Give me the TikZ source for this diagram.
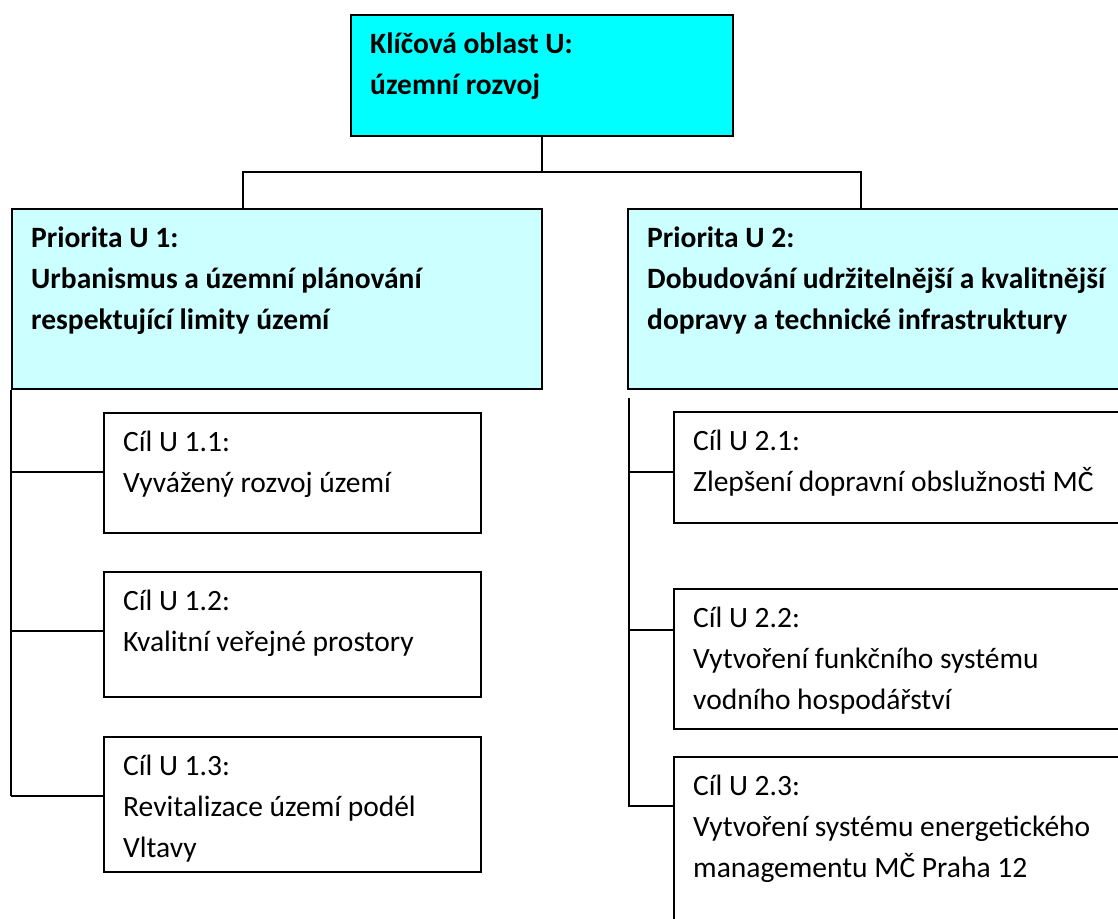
\documentclass[tikz,border=0pt]{standalone}
\usepackage{fontspec}
\setmainfont{Carlito}
\usetikzlibrary{positioning, calc}

\definecolor{keycyan}{RGB}{0,255,255}
\definecolor{prioritycyan}{RGB}{204,255,255}

\begin{document}
\begin{tikzpicture}[x=1pt, y=-1pt,
    box/.style={draw, line width=2pt, anchor=north west, inner sep=0pt},
    txt/.style={anchor=north west, align=left, inner xsep=20pt, inner ysep=19pt,
      font=\fontsize{29.5}{41}\selectfont, execute at begin node=\strut},
    bold/.style={txt, font=\fontsize{29.5}{41}\selectfont\bfseries},
    conn/.style={line width=1.8pt}]

  \clip (0,0) rectangle (1118,918);

  % key area and priorities
  \node[box, fill=keycyan, minimum width=382, minimum height=121,
    label={[bold]north west:{Klíčová oblast U:\\územní rozvoj}}] (top) at (350,14) {};
  \node[box, fill=prioritycyan, minimum width=530, minimum height=180,
    label={[bold]north west:{Priorita U 1:\\Urbanismus a územní plánování\\respektující limity území}}] (p1) at (11,208) {};
  \node[box, fill=prioritycyan, minimum width=530, minimum height=180,
    label={[bold]north west:{Priorita U 2:\\Dobudování udržitelnější a kvalitnější\\dopravy a technické infrastruktury}}] (p2) at (627,208) {};

  % goals
  \node[box, minimum width=377, minimum height=120,
    label={[txt]north west:{Cíl U 1.1:\\Vyvážený rozvoj území}}] (c11) at (103,412) {};
  \node[box, minimum width=377, minimum height=125,
    label={[txt]north west:{Cíl U 1.2:\\Kvalitní veřejné prostory}}] (c12) at (103,571) {};
  \node[box, minimum width=377, minimum height=135,
    label={[txt]north west:{Cíl U 1.3:\\Revitalizace území podél\\Vltavy}}] (c13) at (103,736) {};
  \node[box, minimum width=500, minimum height=111,
    label={[txt]north west:{Cíl U 2.1:\\Zlepšení dopravní obslužnosti MČ}}] (c21) at (673,411) {};
  \node[box, minimum width=500, minimum height=140,
    label={[txt]north west:{Cíl U 2.2:\\Vytvoření funkčního systému\\vodního hospodářství}}] (c22) at (673,588) {};
  \node[box, minimum width=500, minimum height=200,
    label={[txt]north west:{Cíl U 2.3:\\Vytvoření systému energetického\\managementu MČ Praha 12}}] (c23) at (673,756) {};

  % tree lines
  \coordinate (jl) at (243,172);
  \coordinate (jr) at (861,172);
  \draw[conn] (top.south) -- (top.south |- jl);
  \draw[conn] (p1.north -| jl) -- (jl) -- (jr) -- (p2.north -| jr);

  \draw[conn] (p1.south west) -- ([yshift=-60pt]c13.north west -| p1.west);
  \foreach \c in {c11,c12,c13}
    \draw[conn] ([yshift=-60pt]\c.north west) coordinate (b) -- (b -| p1.west);

  \coordinate (rt) at ($(p2.south west)+(2,8)$);
  \draw[conn] (rt) -- ([yshift=-50pt]c23.north west -| rt);
  \foreach \c/\d in {c21/61,c22/42,c23/50}
    \draw[conn] ([yshift=-\d pt]\c.north west) coordinate (b) -- ([xshift=-1pt]b -| rt);
\end{tikzpicture}
\end{document}
